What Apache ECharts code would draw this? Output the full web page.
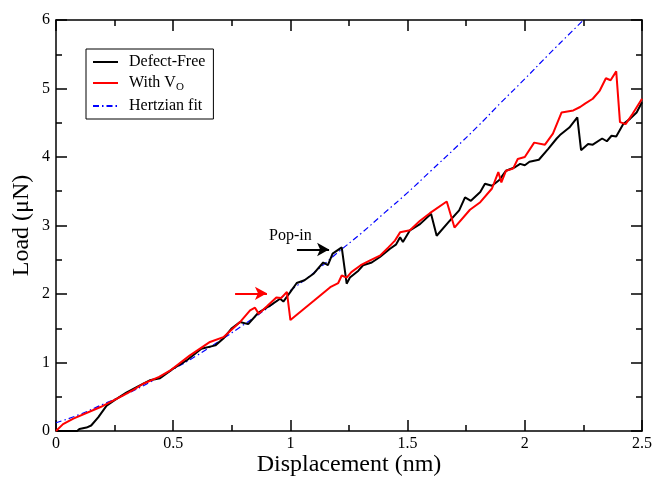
<!DOCTYPE html>
<html>
<head>
<meta charset="utf-8">
<script src="https://cdn.jsdelivr.net/npm/echarts@6/dist/echarts.min.js"></script>
<style>
  html, body { margin: 0; padding: 0; background: #fff; }
  #chart { width: 654px; height: 477px; }
</style>
</head>
<body>
<div id="chart"></div>
<script>
// Displacement (nm), Load (uN)
const defectFree = [
  [0, 0], [0.09, 0], [0.1, 0.03], [0.13, 0.05], [0.15, 0.08], [0.18, 0.2], [0.216, 0.37],
  [0.25, 0.45], [0.3, 0.56], [0.35, 0.65], [0.4, 0.74], [0.444, 0.77], [0.5, 0.91],
  [0.557, 1.03], [0.62, 1.2], [0.68, 1.25], [0.714, 1.35], [0.75, 1.5], [0.785, 1.59],
  [0.82, 1.56], [0.864, 1.73], [0.913, 1.83], [0.956, 1.93], [0.97, 1.89], [1.0, 2.03],
  [1.027, 2.16], [1.06, 2.2], [1.1, 2.3], [1.14, 2.46], [1.16, 2.42], [1.18, 2.59],
  [1.219, 2.68], [1.24, 2.15], [1.254, 2.24], [1.29, 2.34], [1.31, 2.42], [1.347, 2.46],
  [1.382, 2.54], [1.425, 2.66], [1.45, 2.72], [1.468, 2.83], [1.48, 2.76], [1.51, 2.93],
  [1.553, 3.02], [1.6, 3.17], [1.624, 2.85], [1.68, 3.07], [1.72, 3.22], [1.745, 3.41],
  [1.77, 3.36], [1.81, 3.49], [1.83, 3.61], [1.86, 3.58], [1.89, 3.66], [1.92, 3.8],
  [1.958, 3.85], [1.98, 3.9], [2.0, 3.88], [2.02, 3.93], [2.06, 3.96], [2.1, 4.12],
  [2.136, 4.27], [2.15, 4.32], [2.19, 4.43], [2.224, 4.58], [2.24, 4.1], [2.27, 4.19],
  [2.29, 4.18], [2.33, 4.27], [2.35, 4.23], [2.37, 4.31], [2.39, 4.3], [2.42, 4.48],
  [2.45, 4.56], [2.477, 4.65], [2.5, 4.8]
];

const withVo = [
  [0, 0], [0.03, 0.1], [0.074, 0.18], [0.19, 0.35], [0.287, 0.52], [0.33, 0.6], [0.372, 0.69],
  [0.44, 0.79], [0.486, 0.88], [0.57, 1.1], [0.657, 1.3], [0.714, 1.37], [0.785, 1.59],
  [0.828, 1.76], [0.849, 1.8], [0.865, 1.71], [0.9, 1.82], [0.94, 1.95], [0.96, 1.94],
  [0.985, 2.03], [1.0, 1.62], [1.1, 1.9], [1.17, 2.1], [1.204, 2.16], [1.219, 2.27],
  [1.24, 2.24], [1.26, 2.32], [1.3, 2.42], [1.34, 2.49], [1.382, 2.56], [1.418, 2.68],
  [1.446, 2.78], [1.468, 2.9], [1.51, 2.93], [1.553, 3.07], [1.595, 3.18], [1.667, 3.35],
  [1.7, 2.97], [1.766, 3.23], [1.81, 3.34], [1.86, 3.54], [1.887, 3.78], [1.9, 3.63],
  [1.92, 3.8], [1.95, 3.83], [1.97, 3.97], [2.0, 4.0], [2.04, 4.21], [2.086, 4.18],
  [2.12, 4.34], [2.157, 4.65], [2.207, 4.68], [2.236, 4.73], [2.257, 4.78], [2.29, 4.85],
  [2.32, 4.97], [2.346, 5.15], [2.366, 5.12], [2.39, 5.25], [2.406, 4.51], [2.43, 4.48],
  [2.46, 4.63], [2.5, 4.85]
];

const hertzFit = [
  [0, 0.12], [0.1, 0.24], [0.2, 0.39], [0.3, 0.54], [0.4, 0.71], [0.5, 0.9], [0.6, 1.1],
  [0.7, 1.32], [0.8, 1.55], [0.9, 1.79], [1.0, 2.05], [1.1, 2.31], [1.2, 2.6], [1.3, 2.88],
  [1.4, 3.18], [1.5, 3.48], [1.6, 3.8], [1.7, 4.12], [1.8, 4.45], [1.9, 4.8], [2.0, 5.14],
  [2.1, 5.49], [2.2, 5.83], [2.26, 6.03]
];

// arrow annotations: [x start, x end, y]
const popInArrow = [1.028, 1.165, 2.65];
const voArrow = [0.764, 0.9, 2.01];

const font = 'Liberation Serif';

const chart = echarts.init(document.getElementById('chart'));

function xAx(pos, labels) {
  return {
    type: 'value', position: pos, min: 0, max: 2.5, interval: 0.5,
    axisLine: { show: true, onZero: false, lineStyle: { color: '#000', width: 1.5 } },
    axisTick: { show: true, inside: true, length: 11, lineStyle: { color: '#000', width: 1.5 } },
    minorTick: { show: true, splitNumber: 2, length: 6, lineStyle: { color: '#000', width: 1.5 } },
    axisLabel: { show: labels, color: '#000', fontFamily: font, fontSize: 16, margin: 5 },
    splitLine: { show: false },
    name: labels ? 'Displacement (nm)' : '',
    nameLocation: 'middle', nameGap: 22, nameMoveOverlap: false,
    nameTextStyle: { color: '#000', fontFamily: font, fontSize: 24 }
  };
}

function yAx(pos, labels) {
  return {
    type: 'value', position: pos, min: 0, max: 6, interval: 1,
    axisLine: { show: true, onZero: false, lineStyle: { color: '#000', width: 1.5 } },
    axisTick: { show: true, inside: true, length: 11, lineStyle: { color: '#000', width: 1.5 } },
    minorTick: { show: true, splitNumber: 2, length: 6, lineStyle: { color: '#000', width: 1.5 } },
    axisLabel: { show: labels, color: '#000', fontFamily: font, fontSize: 16, margin: 6 },
    splitLine: { show: false },
    name: labels ? 'Load (\u03bcN)' : '',
    nameLocation: 'middle', nameGap: 22, nameMoveOverlap: false,
    nameTextStyle: { color: '#000', fontFamily: font, fontSize: 24 }
  };
}

function arrow(a, color) {
  return {
    silent: true,
    symbol: ['none', 'arrow'],
    symbolSize: [10, 12],
    label: { show: false },
    lineStyle: { color: color, width: 2, type: 'solid' },
    emphasis: { disabled: true },
    data: [[{ coord: [a[0], a[2]] }, { coord: [a[1], a[2]] }]]
  };
}

chart.setOption({
  animation: false,
  grid: { left: 56, right: 12, top: 20, bottom: 46, outerBoundsMode: 'none', containLabel: false },
  xAxis: [xAx('bottom', true), xAx('top', false)],
  yAxis: [yAx('left', true), yAx('right', false)],
  legend: {
    orient: 'vertical', left: 86, top: 49,
    borderColor: '#000', borderWidth: 1,
    padding: [5, 8, 5, 6],
    itemWidth: 25, itemHeight: 14, itemGap: 5,
    itemStyle: { opacity: 0 },
    formatter: function (n) { return n === 'With VO' ? 'With V{sub|O}' : n; },
    textStyle: {
      color: '#000', fontFamily: font, fontSize: 16, padding: [0, 0, 0, 6],
      rich: { sub: { fontFamily: font, fontSize: 11, padding: [9, 0, 0, 0] } }
    },
    data: ['Defect-Free', 'With VO', 'Hertzian fit']
  },
  graphic: [{
    type: 'text', left: 269, top: 228,
    style: { text: 'Pop-in', fill: '#000', font: '16px "Liberation Serif"' }
  }],
  series: [
    {
      name: 'Hertzian fit', type: 'line', data: hertzFit, smooth: true, symbol: 'none',
      lineStyle: { color: '#0000ff', width: 1.2, type: [6, 3, 1.5, 3] },
      itemStyle: { color: '#0000ff' }, z: 3
    },
    {
      name: 'Defect-Free', type: 'line', data: defectFree, symbol: 'none',
      lineStyle: { color: '#000', width: 2 }, itemStyle: { color: '#000' }, z: 4,
      markLine: arrow(popInArrow, '#000')
    },
    {
      name: 'With VO', type: 'line', data: withVo, symbol: 'none',
      lineStyle: { color: '#ff0000', width: 2 }, itemStyle: { color: '#ff0000' }, z: 5,
      markLine: arrow(voArrow, '#ff0000')
    }
  ]
});
</script>
</body>
</html>
